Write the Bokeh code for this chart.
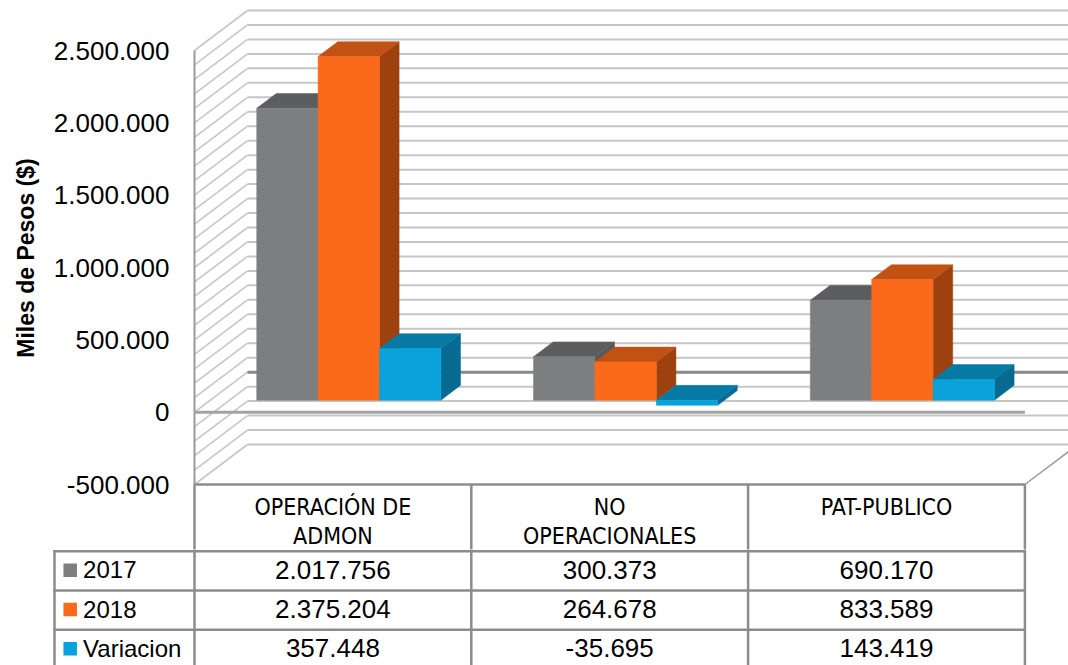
import math
from bokeh.plotting import figure
from bokeh.layouts import column, row
from bokeh.models import Range1d, FixedTicker
from bokeh.core.properties import value
from bokeh.embed import file_html
from bokeh.resources import INLINE

# ---------------- data ----------------
categories = ["OPERACIÓN DE\nADMON", "NO\nOPERACIONALES", "PAT-PUBLICO"]
series_names = ["2017", "2018", "Variacion"]
values_2017 = [2017756, 300373, 690170]
values_2018 = [2375204, 264678, 833589]
values_var = [357448, -35695, 143419]
y_ticks = [-500000, 0, 500000, 1000000, 1500000, 2000000, 2500000]
grid_step = 100000
y_title = "Miles de Pesos ($)"

front_colors = ["#7d7e80", "#fa6a1a", "#0aa2da"]
top_colors = ["#5c5d5f", "#c25114", "#0779a5"]
side_colors = ["#58595b", "#9d420f", "#066a91"]

series = [values_2017, values_2018, values_var]


def fmt(v):
    return f"{v:,}".replace(",", ".")


# ---------------- layout constants (page pixels) ----------------
PAGE_W, PAGE_H = 1068, 665
TW = 42                      # title strip width
PX_PER_CAT = 276.8
FRONT_LEFT = 194.0           # x of front plane left edge
FRAME_LEFT = 190.0           # x of chart frame left
Y_MIN_PAGE, Y_MAX_PAGE = 484.0, 50.0   # y of -500k and 2.5M on the front plane
SPLIT = 549                  # boundary between chart figure and table figure

y_px = (Y_MIN_PAGE - Y_MAX_PAGE) / (y_ticks[-1] - y_ticks[0])
y_lo = y_ticks[0] - (SPLIT - Y_MIN_PAGE) / y_px
y_hi = y_ticks[-1] + Y_MAX_PAGE / y_px


def tbl_y(off):
    """table offset (px below the front bottom edge) -> value coordinate of the chart"""
    return y_ticks[0] - off / y_px


def cat_x(page_x):
    return (page_x - FRONT_LEFT) / PX_PER_CAT


x_end = cat_x(PAGE_W)
DX = 53.0 / PX_PER_CAT          # full depth, x
DY = 40.0 / y_px                # full depth, y
ncat = len(categories)
nser = len(series)

GRID_C = "#c6c6c6"
EDGE_C = "#9a9a9a"
TBL_C = "#8c8c8c"
HEAD_H = 66.7
ROW_H = 39.3

# ---------------- title strip ----------------
HA = int(SPLIT)
pT = figure(width=TW, height=HA, output_backend="svg", toolbar_location=None,
            x_range=Range1d(0, TW), y_range=Range1d(HA, 0),
            x_axis_location=None, y_axis_location=None, min_border=0,
            outline_line_color=None, background_fill_color="white", border_fill_color="white")
pT.grid.visible = False
pT.text(x=[25], y=[257.5], text=[y_title], angle=math.pi / 2,
        text_align="center", text_baseline="middle",
        text_font=value("Liberation Sans"), text_font_style="bold",
        text_font_size="23px", text_color="#000000")

# ---------------- chart figure ----------------
pA = figure(width=PAGE_W - TW, height=HA, output_backend="svg", toolbar_location=None,
            x_range=Range1d(cat_x(FRAME_LEFT), x_end), y_range=Range1d(y_lo, y_hi),
            x_axis_location=None, y_axis_location="left",
            min_border_left=int(FRAME_LEFT - TW), min_border_right=0,
            min_border_top=0, min_border_bottom=0,
            outline_line_color=None, background_fill_color="white",
            border_fill_color="white")
pA.grid.visible = False

vals = list(range(y_ticks[0], y_ticks[-1] + 1, grid_step))
# back wall gridlines
pA.multi_line(xs=[[DX, ncat + DX + 1] for v in vals],
              ys=[[v + DY, v + DY] for v in vals],
              line_color=GRID_C, line_width=2)
# side wall diagonals
pA.multi_line(xs=[[0, DX] for v in vals],
              ys=[[v, v + DY] for v in vals],
              line_color=GRID_C, line_width=1.6)
# back wall zero line
pA.line(x=[DX, ncat + DX + 1], y=[DY, DY], line_color="#8a8a8a", line_width=3)
# front left edge
pA.line(x=[0, 0], y=[y_ticks[0], y_ticks[-1]], line_color=EDGE_C, line_width=2)
# front zero line
pA.line(x=[0, ncat], y=[0, 0], line_color="#a3a3a3", line_width=3)
# right floor edge
pA.line(x=[ncat, ncat + DX], y=[y_ticks[0], y_ticks[0] + DY], line_color=EDGE_C, line_width=1.5)

# 3D bars
bar_w = 0.2218
f1, f2 = 0.30, 0.67
ddx, ddy = (f2 - f1) * DX, (f2 - f1) * DY
pxs, pys, pcs = [], [], []
for i in range(ncat):
    for j in range(nser):
        v = series[j][i]
        x0 = i + 0.5 - nser * bar_w / 2 + j * bar_w + f1 * DX
        x1 = x0 + bar_w
        yb = min(0, v) + f1 * DY
        yt = max(0, v) + f1 * DY
        pxs.append([x1, x1, x1 + ddx, x1 + ddx]); pys.append([yb, yt, yt + ddy, yb + ddy]); pcs.append(side_colors[j])
        pxs.append([x0, x1, x1 + ddx, x0 + ddx]); pys.append([yt, yt, yt + ddy, yt + ddy]); pcs.append(top_colors[j])
        pxs.append([x0, x1, x1, x0]); pys.append([yb, yb, yt, yt]); pcs.append(front_colors[j])
pA.patches(xs=pxs, ys=pys, fill_color=pcs, line_color=pcs, line_width=0.5)

# table header part (inside chart figure)
pA.line(x=[0, ncat], y=[y_ticks[0], y_ticks[0]], line_color=TBL_C, line_width=2.5)
pA.multi_line(xs=[[k, k] for k in range(ncat + 1)],
              ys=[[y_ticks[0], tbl_y(SPLIT - Y_MIN_PAGE + 3)] for k in range(ncat + 1)],
              line_color=TBL_C, line_width=2.5)
hx, hy, ht = [], [], []
for i, c in enumerate(categories):
    for k, line in enumerate(c.split("\n")):
        hx.append(i + 0.5); hy.append(tbl_y(22.7 + k * 29.0)); ht.append(line)
pA.text(x=hx, y=hy, text=ht, text_align="center", text_baseline="middle",
        text_font=value("DejaVu Sans Condensed"), text_font_size="23px", text_color="#000000")

ax = pA.yaxis[0]
ax.ticker = FixedTicker(ticks=y_ticks)
ax.major_label_overrides = {t: fmt(t) for t in y_ticks}
ax.minor_tick_line_color = None
ax.major_tick_line_color = None
ax.major_tick_out = 0
ax.major_tick_in = 0
ax.axis_line_color = None
ax.major_label_standoff = 21
ax.major_label_text_font = "Liberation Sans"
ax.major_label_text_font_size = "26px"
ax.major_label_text_color = "#000000"

# ---------------- table figure ----------------
HB = PAGE_H - HA
B_OFF0 = SPLIT - Y_MIN_PAGE
pB = figure(width=PAGE_W, height=HB, output_backend="svg", toolbar_location=None,
            x_range=Range1d(cat_x(0), x_end), y_range=Range1d(B_OFF0 + HB, B_OFF0),
            x_axis_location=None, y_axis_location=None, min_border=0,
            outline_line_color=None, background_fill_color="white",
            border_fill_color="white")
pB.grid.visible = False

LEG_L = cat_x(54.0)
nrow = len(series)
y_bottom = B_OFF0 + HB + 5

pB.multi_line(xs=[[k, k] for k in range(ncat + 1)],
              ys=[[B_OFF0 - 2, y_bottom] for k in range(ncat + 1)],
              line_color=TBL_C, line_width=2.5)
pB.line(x=[LEG_L, LEG_L], y=[HEAD_H - 1.2, y_bottom], line_color=TBL_C, line_width=2.5)
pB.multi_line(xs=[[LEG_L - 0.004, ncat + 0.004] for r in range(nrow)],
              ys=[[HEAD_H + r * ROW_H] * 2 for r in range(nrow)],
              line_color=TBL_C, line_width=2.5)

vx, vy, vt = [], [], []
for r in range(nrow):
    for i in range(ncat):
        vx.append(i + 0.5); vy.append(HEAD_H + r * ROW_H + 18.6); vt.append(fmt(series[r][i]))
pB.text(x=vx, y=vy, text=vt, text_align="center", text_baseline="middle",
        text_font=value("Liberation Sans"), text_font_size="26px", text_color="#000000")

ry = [HEAD_H + r * ROW_H + 19.0 for r in range(nrow)]
pB.rect(x=[cat_x(69.7)] * nrow, y=ry, width=13.5, height=13.5,
        width_units="screen", height_units="screen", fill_color=front_colors, line_color=None)
pB.text(x=[cat_x(82.6)] * nrow, y=[HEAD_H + r * ROW_H + 18.6 for r in range(nrow)],
        text=series_names, text_align="left", text_baseline="middle",
        text_font=value("Liberation Sans"), text_font_size="24px", text_color="#000000")

layout = column(row(pT, pA, spacing=0), pB, spacing=0)
open("out.html", "w").write(file_html(layout, INLINE))
